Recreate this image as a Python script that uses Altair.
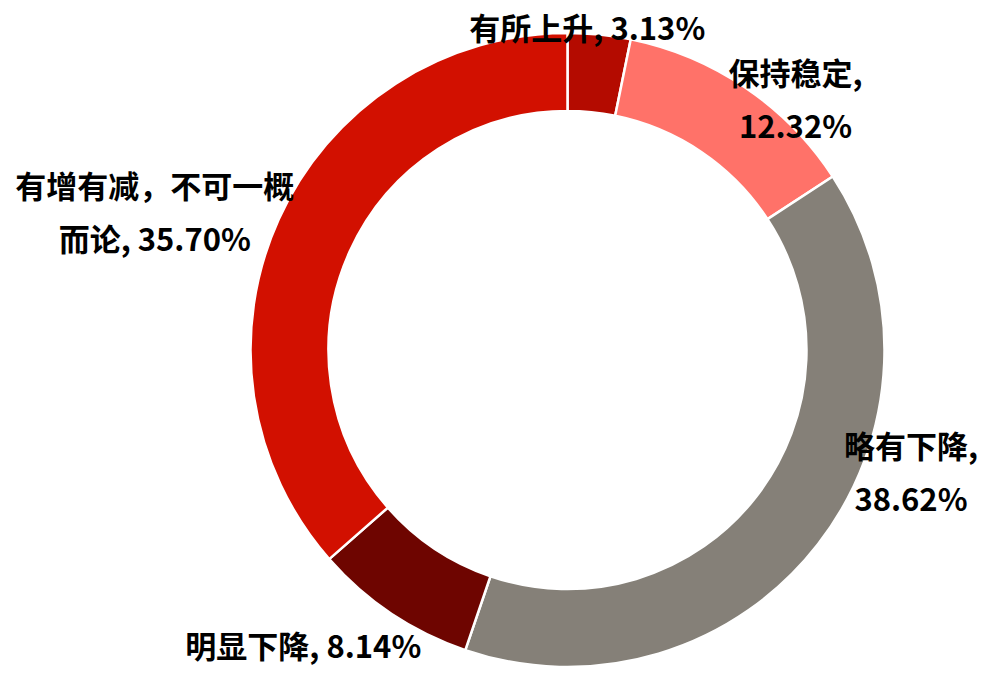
import altair as alt
import pandas as pd

categories = ["有所上升", "保持稳定", "略有下降", "明显下降", "有增有减，不可一概而论"]
values = [3.13, 12.32, 38.62, 8.14, 35.70]
labels = ["有所上升, 3.13%", "保持稳定,\n12.32%", "略有下降,\n38.62%",
          "明显下降, 8.14%", "有增有减，不可一概\n而论, 35.70%"]
colors = ["#B40B00", "#FF7269", "#858078", "#6E0500", "#D21000"]

df = pd.DataFrame({
    "idx": list(range(len(categories))),
    "cat": categories,
    "value": values,
    "label": labels,
})

# label offsets (style) relative to the slice mid-angle at the outer radius
offsets = {
    "有所上升": (-12, -4),
    "保持稳定": (50, -12),
    "略有下降": (93, -95),
    "明显下降": (-88, 35),
    "有增有减，不可一概而论": (-124, -30),
}

base = alt.Chart(df)

arcs = base.mark_arc(outerRadius=317, innerRadius=239, stroke="white", strokeWidth=2.5).encode(
    theta=alt.Theta("value:Q", stack=True),
    order=alt.Order("idx:Q"),
    color=alt.Color("cat:N", scale=alt.Scale(domain=categories, range=colors), legend=None),
)

layers = [arcs]
for cat in categories:
    dx, dy = offsets[cat]
    t = base.transform_joinaggregate(
        total="sum(value)"
    ).transform_window(
        cum="sum(value)", sort=[alt.SortField("idx")], frame=[None, 0]
    ).transform_calculate(
        mid="(datum.cum - datum.value / 2) / datum.total * 2 * PI"
    ).transform_filter(
        alt.datum.cat == cat
    ).mark_text(
        radius=317, dx=dx, dy=dy, font="Noto Sans CJK SC", fontWeight="bold",
        fontSize=31, color="black", align="center", baseline="middle",
        lineBreak="\n", lineHeight=53,
    ).encode(
        theta=alt.Theta("mid:Q", scale=None),
        text="label:N",
    )
    layers.append(t)

chart = alt.layer(*layers).properties(
    width=800, height=640,
    padding={"left": 159.5, "top": 22, "right": 16.5, "bottom": 0},
    autosize=alt.AutoSizeParams(type="none"),
).configure_view(stroke=None)

chart.save("out.html", embed_options={"renderer": "svg", "actions": False})
